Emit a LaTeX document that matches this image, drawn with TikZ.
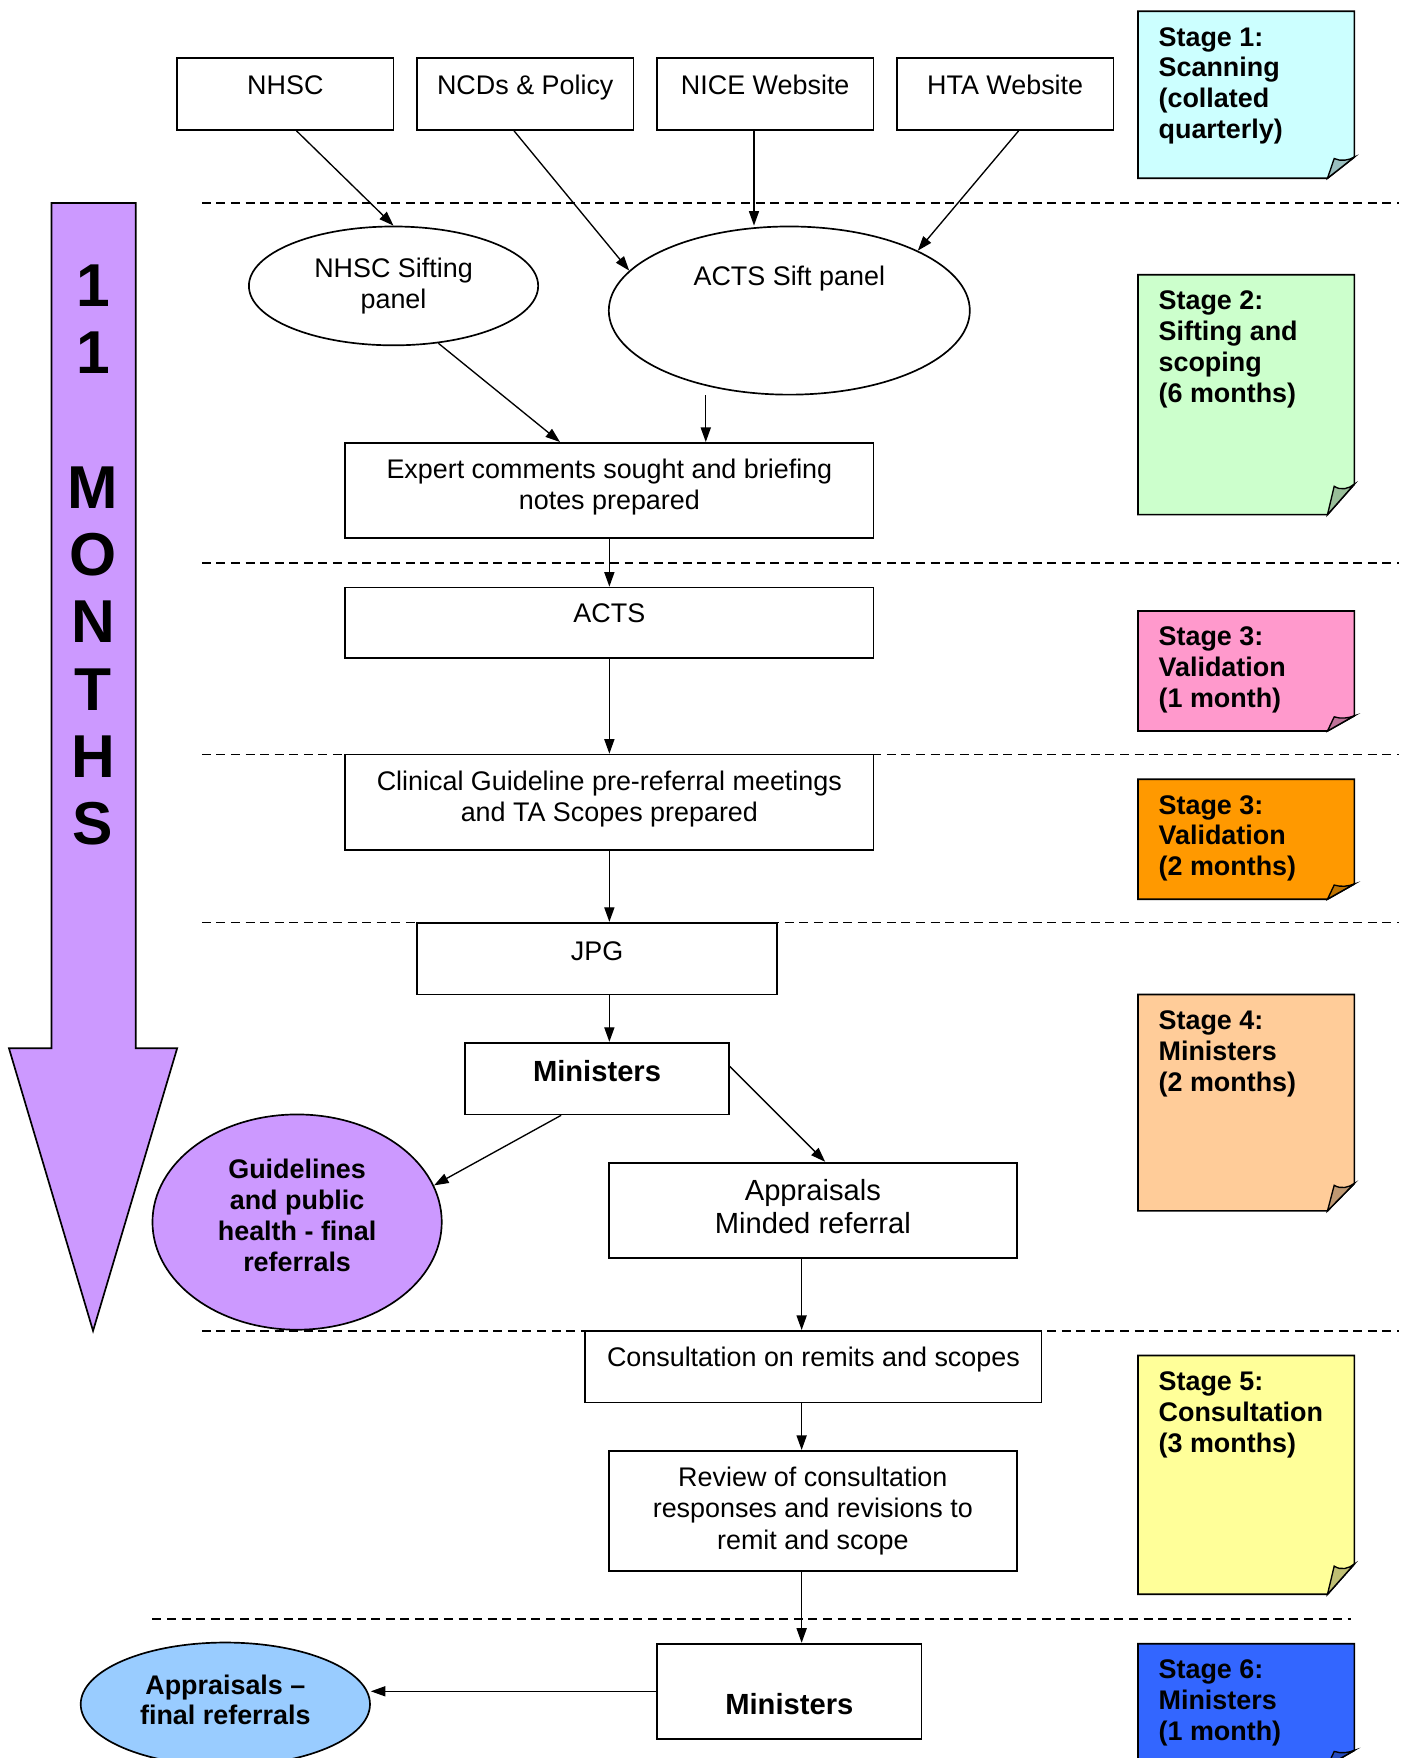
\documentclass[tikz,border=0pt]{standalone}
\usepackage{fontspec}
\setmainfont{Liberation Sans}
\usetikzlibrary{arrows.meta,positioning,shapes.geometric}
\definecolor{stcyan}{HTML}{CCFFFF}
\definecolor{stgreen}{HTML}{CCFFCC}
\definecolor{stpink}{HTML}{FF99CC}
\definecolor{storange}{HTML}{FF9900}
\definecolor{stpeach}{HTML}{FFCC99}
\definecolor{styellow}{HTML}{FFFF99}
\definecolor{stblue}{HTML}{3366FF}
\definecolor{lilac}{HTML}{CC99FF}
\definecolor{skyblue}{HTML}{99CCFF}
\begin{document}
\begin{tikzpicture}[x=0.5pt,y=-0.5pt,
  box/.style={draw, line width=0.75pt, fill=white, align=center, font=\fontsize{12}{14}\selectfont},
  panel/.style={ellipse, draw, line width=0.75pt, fill=white, inner sep=0pt, align=center, font=\fontsize{12}{14}\selectfont},
  arr/.style={-{Triangle[length=6.5pt,width=4.5pt]}, line width=0.6pt},
  stagegap/.style={dash pattern=on 4pt off 2.5pt, line width=0.6pt},
  notetext/.style={anchor=north west, inner sep=0pt, align=left, font=\bfseries\fontsize{12}{13.75}\selectfont}]
\useasboundingbox (0,0) rectangle (1257,1568);
\clip (0,0) rectangle (1257,1568);

% Stage boundaries
\foreach \y in {181,502,673,823,1187}{
  \draw[stagegap] (180,\y) -- (1248,\y);
}
\draw[stagegap] (136,1444) -- (1205,1444);

% 11 months arrow
\draw[line width=0.75pt, fill=lilac] (46,181) -- (121,181) -- (121,935) -- (158,935)
  -- (83,1187) -- (8,935) -- (46,935) -- cycle;
\node[font=\bfseries\fontsize{27}{30}\selectfont, align=center] (months) at (83,495)
  {1\\1\\[30pt]M\\O\\N\\T\\H\\S};

% Stage notes with folded corner
\foreach \nm/\ya/\yb/\col/\txt in {
  s1/10/159/stcyan/{Stage 1:\\Scanning\\(collated\\quarterly)},
  s2/245/459/stgreen/{Stage 2:\\Sifting and\\scoping\\(6 months)},
  s3/545/652/stpink/{Stage 3:\\Validation\\(1 month)},
  s3b/695/802/storange/{Stage 3:\\Validation\\(2 months)},
  s4/887/1080/stpeach/{Stage 4:\\Ministers\\(2 months)},
  s5/1209/1422/styellow/{Stage 5:\\Consultation\\(3 months)},
  s6/1466/1575/stblue/{Stage 6:\\Ministers\\(1 month)}}{
  \pgfmathsetmacro\fh{0.127*(\yb-\ya)}
  \draw[line width=0.75pt, fill=\col] (1015,\ya) -- (1208,\ya) -- (1208,\yb-\fh)
    -- (1184,\yb) -- (1015,\yb) -- cycle;
  \draw[line width=0.6pt, fill=\col!75!black] (1184,\yb) -- (1190,\yb-0.93*\fh)
    .. controls (1196,\yb-0.78*\fh) and (1203,\yb-0.85*\fh) .. (1208,\yb-\fh) -- cycle;
  \node[notetext] (\nm) at (1033,\ya+14) {\txt};
}

% Sources
\node[box, minimum width=96.5pt, minimum height=32pt, text height=9pt, text depth=8.5pt] (nhsc) at (254.5,84) {NHSC};
\node[box, minimum width=96.5pt, minimum height=32pt, text height=9pt, text depth=8.5pt] (ncd) at (468.5,84) {NCDs \& Policy};
\node[box, minimum width=96.5pt, minimum height=32pt, text height=9pt, text depth=8.5pt] (nice) at (682.5,84) {NICE Website};
\node[box, minimum width=96.5pt, minimum height=32pt, text height=9pt, text depth=8.5pt] (hta) at (896.5,84) {HTA Website};

% Sifting panels
\node[panel, minimum width=129pt, minimum height=53pt] (nhscsift) at (351,255) {NHSC Sifting\\panel};
\node[panel, minimum width=161pt, minimum height=75pt, text height=9pt, text depth=31pt] (actssift) at (704,277) {ACTS Sift panel};

% Main flow
\node[box, minimum width=235.5pt, minimum height=42.5pt, text depth=5.5pt] (expert) at (543.5,437.5)
  {Expert comments sought and briefing\\notes prepared};
\node[box, minimum width=235.5pt, minimum height=31.5pt, text height=9pt, text depth=9.5pt] (acts) at (543.5,555.5) {ACTS};
\node[box, minimum width=235.5pt, minimum height=42.5pt, text depth=5.5pt] (clinical) at (543.5,715.5)
  {Clinical Guideline pre-referral meetings\\and TA Scopes prepared};
\node[box, minimum width=160.5pt, minimum height=32pt, text height=9pt, text depth=7pt] (jpg) at (532.5,855) {JPG};
\node[box, minimum width=117.5pt, minimum height=32pt, text height=9.5pt, text depth=7pt,
  font=\bfseries\fontsize{13}{15}\selectfont] (min1) at (532.5,962) {Ministers};
\node[panel, fill=lilac, minimum width=129pt, minimum height=96pt, text depth=6pt,
  font=\bfseries\fontsize{12}{13.85}\selectfont]
  (guide) at (265,1090) {Guidelines\\and public\\health - final\\referrals};
\node[box, minimum width=182pt, minimum height=42.5pt, text depth=3.5pt, font=\fontsize{13}{14.5}\selectfont]
  (minded) at (725,1079.5) {Appraisals\\Minded referral};
\node[box, minimum width=203.5pt, minimum height=32pt, text height=9pt, text depth=9pt] (consult) at (725.5,1219)
  {Consultation on remits and scopes};
\node[box, minimum width=182pt, minimum height=53.5pt] (review) at (725,1347.5)
  {Review of consultation\\responses and revisions to\\remit and scope};
\node[box, minimum width=118pt, minimum height=42.5pt, text height=21pt, text depth=0pt,
  font=\bfseries\fontsize{13}{15}\selectfont] (min2) at (704,1508.5) {Ministers};
\node[panel, fill=skyblue, minimum width=129pt, minimum height=55pt, text depth=4pt,
  font=\bfseries\fontsize{12}{13.5}\selectfont]
  (appfinal) at (201,1520) {Appraisals –\\final referrals};

% Connectors
\draw[arr] ([xshift=5pt]nhsc.south) -- (nhscsift.north);
\draw[arr] ([xshift=-5pt]ncd.south) -- (actssift.166);
\draw[arr] ([xshift=-5pt]nice.south) -- ([xshift=-5pt]nice.south |- actssift.north);
\draw[arr] ([xshift=6pt]hta.south) -- (actssift.25);
\draw[arr] (nhscsift.-52) -- ([xshift=-22pt]expert.north);
\draw[arr] ([xshift=43pt]expert.north |- actssift.south) -- ([xshift=43pt]expert.north);
\draw[arr] (expert) -- (acts);
\draw[arr] (acts) -- (clinical);
\draw[arr] (clinical.south) -- (clinical.south |- jpg.north);
\draw[arr] (clinical.south |- jpg.south) -- (clinical.south |- min1.north);
\draw[arr] ([xshift=-16pt]min1.south) -- (guide.15);
\draw[arr] ([yshift=5.5pt]min1.east) -- ([xshift=5.5pt]minded.north);
\draw[arr] ([xshift=-5pt]minded.south) -- ([xshift=-5pt]minded.south |- consult.north);
\draw[arr] ([xshift=-5pt]minded.south |- consult.south) -- ([xshift=-5pt]review.north);
\draw[arr] ([xshift=-5pt]review.south) -- ([xshift=-5pt]review.south |- min2.north);
\draw[arr] (min2.west) -- (min2.west -| appfinal.east);

\end{tikzpicture}
\end{document}
